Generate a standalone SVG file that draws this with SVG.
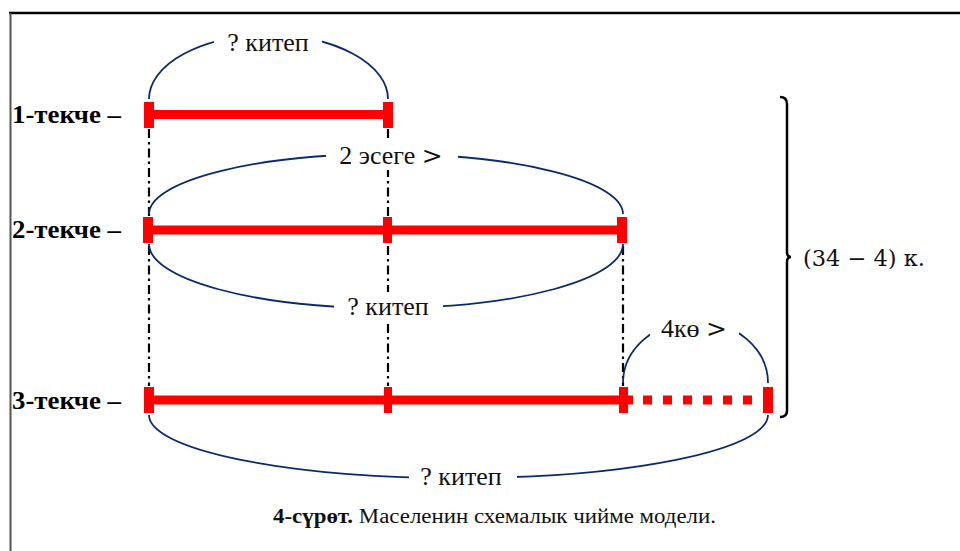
<svg xmlns="http://www.w3.org/2000/svg" width="960" height="551" viewBox="0 0 960 551">
  <style>
    .lbl { font-family: "Liberation Serif", "Times New Roman", serif; font-size: 25px; font-weight: bold; fill: #000; }
    .txt { font-family: "Liberation Serif", "Times New Roman", serif; font-size: 26px; fill: #111; text-anchor: middle; }
    .gt { font-family: "DejaVu Serif", "Liberation Serif", serif; font-size: 25px; }
    .arc { fill: none; stroke: #0b2a6e; stroke-width: 1.8; }
    .bar { stroke: #ff0000; stroke-width: 9; fill: none; }
    .cap { fill: #ff0000; }
    .guide { stroke: #000; stroke-width: 2.2; stroke-dasharray: 9 4 2.5 4; fill: none; }
    .mask { fill: #fff; }
  </style>

  <rect width="960" height="551" fill="#fff"/>
  <!-- frame -->
  <line x1="9" y1="13" x2="960" y2="13" stroke="#000" stroke-width="2.5"/>
  <line x1="10.5" y1="13" x2="10.5" y2="551" stroke="#555" stroke-width="2"/>

  <!-- vertical alignment guides -->
  <g id="guides">
    <line class="guide" x1="149" y1="129" x2="149" y2="386"/>
    <line class="guide" x1="388" y1="129" x2="388" y2="386"/>
    <line class="guide" x1="623" y1="246" x2="623" y2="386"/>
  </g>

  <!-- brace annotations -->
  <g id="connectors">
    <path class="arc" d="M149,99 A119.5,64 0 0 1 388,99"/>
    <path class="arc" d="M149,214 A237,60 0 0 1 623,214"/>
    <path class="arc" d="M149,244 A237,64 0 0 0 623,244"/>
    <path class="arc" d="M623,383 A72.5,62 0 0 1 768,383"/>
    <path class="arc" d="M149,415 A309.5,63 0 0 0 768,415"/>
    <rect class="mask" x="214" y="28" width="108" height="28"/>
    <rect class="mask" x="326" y="142" width="132" height="28"/>
    <rect class="mask" x="334" y="292" width="109" height="28"/>
    <rect class="mask" x="650" y="310" width="89" height="30"/>
    <rect class="mask" x="409" y="462" width="108" height="28"/>
  </g>

  <g id="shelf1">
    <text class="lbl" x="12" y="123" textLength="109" lengthAdjust="spacingAndGlyphs">1-текче –</text>
    <line class="bar" x1="149" y1="114.5" x2="388" y2="114.5"/>
    <rect class="cap" x="144" y="102" width="10" height="26"/>
    <rect class="cap" x="383" y="102" width="10" height="26"/>
  </g>

  <g id="shelf2">
    <text class="lbl" x="12" y="238" textLength="109" lengthAdjust="spacingAndGlyphs">2-текче –</text>
    <line class="bar" x1="148" y1="230" x2="622" y2="230"/>
    <rect class="cap" x="143" y="217" width="10" height="26"/>
    <rect class="cap" x="383" y="217" width="9" height="26"/>
    <rect class="cap" x="617" y="217" width="10" height="26"/>
  </g>

  <g id="shelf3">
    <text class="lbl" x="12" y="409" textLength="109" lengthAdjust="spacingAndGlyphs">3-текче –</text>
    <line class="bar" x1="149" y1="400" x2="633" y2="400"/>
    <line x1="643" y1="400" x2="753" y2="400" stroke="#ff0000" stroke-width="9" stroke-dasharray="9 11"/>
    <rect class="cap" x="144" y="387" width="10" height="26"/>
    <rect class="cap" x="384" y="387" width="8" height="26"/>
    <rect class="cap" x="619" y="387" width="9" height="26"/>
    <rect class="cap" x="763" y="387" width="10" height="26"/>
  </g>

  <g id="labels">
    <text class="txt" x="268" y="51">? китеп</text>
    <text class="txt" x="391" y="164">2 эсеге <tspan class="gt">&gt;</tspan></text>
    <text class="txt" x="388" y="315">? китеп</text>
    <text class="txt" x="694" y="337">4кө <tspan class="gt">&gt;</tspan></text>
    <text class="txt" x="461" y="485">? китеп</text>
  </g>

  <!-- total bracket -->
  <g id="total">
    <path d="M780,97 Q787,97 787,104 L787,252 Q787,257 791,257 Q787,257 787,262 L787,411 Q787,417 780,417" fill="none" stroke="#000" stroke-width="2.5"/>
    <text x="803" y="266" font-family="'DejaVu Serif', 'Liberation Serif', serif" font-size="22" fill="#111" textLength="122" lengthAdjust="spacingAndGlyphs">(34 − 4) к.</text>
  </g>

  <g id="caption">
    <text x="273" y="523" font-family="'Liberation Serif', 'Times New Roman', serif" font-size="20" fill="#111" textLength="443" lengthAdjust="spacingAndGlyphs"><tspan font-weight="bold">4-сүрөт.</tspan> Маселенин схемалык чийме модели.</text>
  </g>
</svg>
